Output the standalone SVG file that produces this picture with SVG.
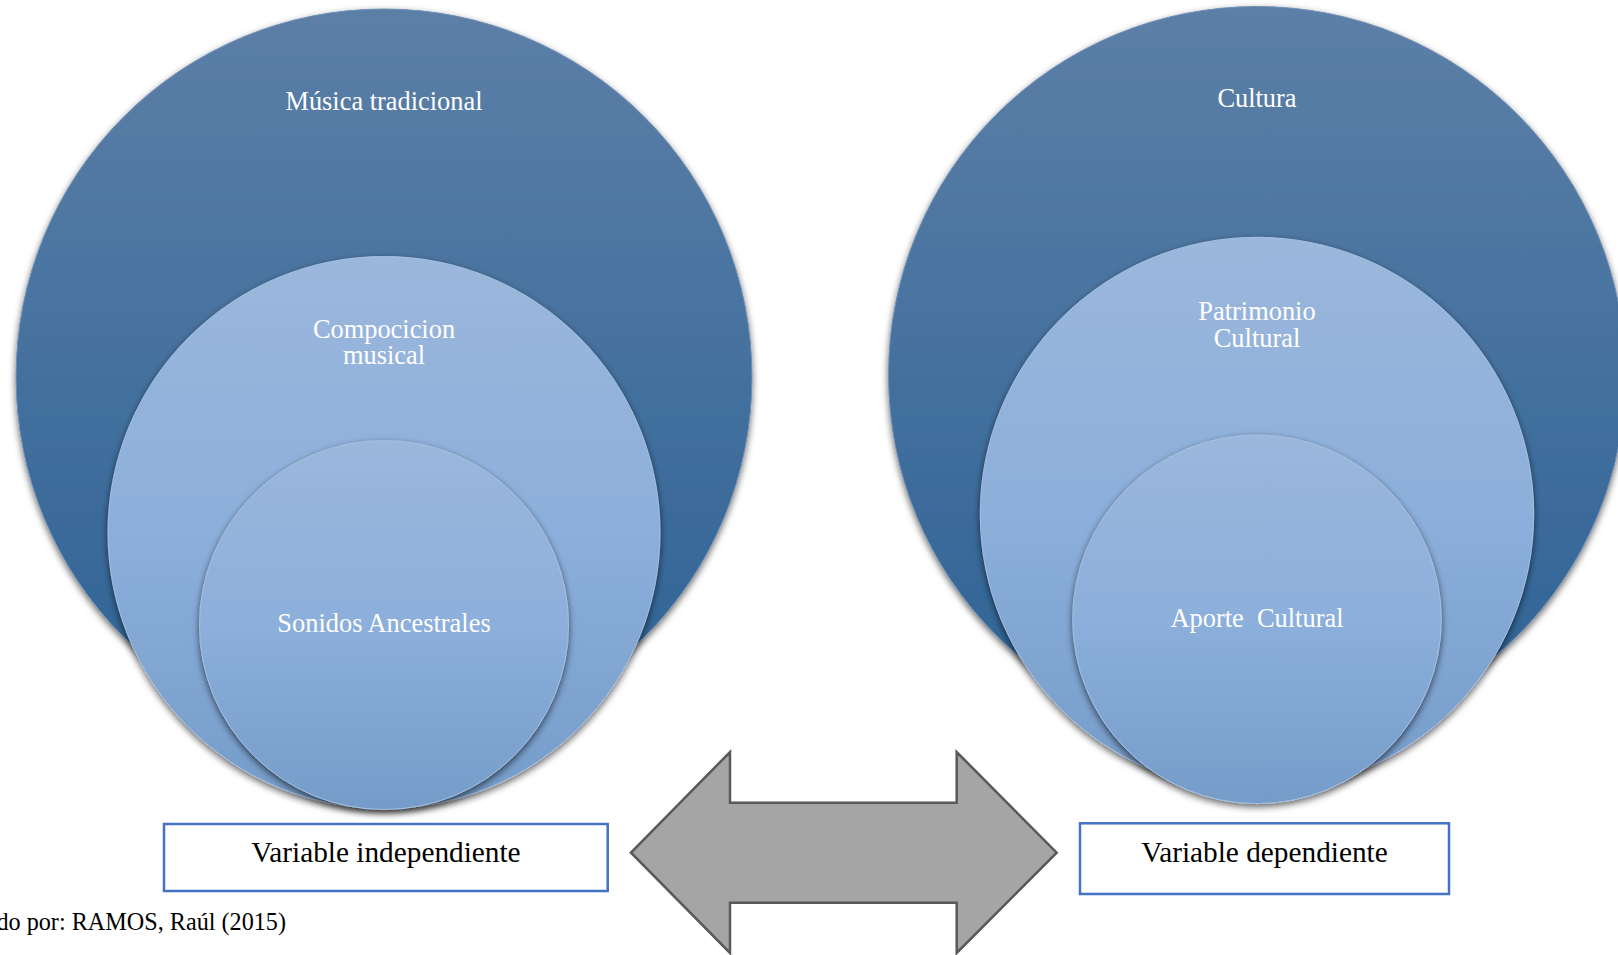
<svg xmlns="http://www.w3.org/2000/svg" width="1618" height="955" viewBox="0 0 1618 955">
<defs>
<linearGradient id="gBig" x1="0" y1="0" x2="0" y2="1">
<stop offset="0" stop-color="#5c7fa7"/>
<stop offset="1" stop-color="#2c6295"/>
</linearGradient>
<linearGradient id="gLight" x1="0" y1="0" x2="0" y2="1">
<stop offset="0" stop-color="#9bb7dc"/>
<stop offset="0.5" stop-color="#8cafdb"/>
<stop offset="1" stop-color="#759cc9"/>
</linearGradient>
<filter id="sh" x="-10%" y="-10%" width="120%" height="125%">
<feDropShadow dx="0" dy="3" stdDeviation="3.5" flood-color="#000" flood-opacity="0.6"/>
</filter>
</defs>
<style>
.big{fill:url(#gBig);stroke:#6f8fb5;stroke-width:1;filter:url(#sh)}
.light{fill:url(#gLight);stroke:#a6bfdf;stroke-width:1;filter:url(#sh)}
.lbl{font-family:"Liberation Serif","Times New Roman",serif;font-size:26.4px;fill:#ffffff;text-anchor:middle;white-space:pre}
.box{fill:#ffffff;stroke:#4472c4;stroke-width:2.5}
.btxt{font-family:"Liberation Serif","Times New Roman",serif;font-size:29.3px;fill:#000000;text-anchor:middle}
.cap{font-family:"Liberation Serif","Times New Roman",serif;font-size:24.2px;fill:#000000}
.arrow{fill:#a5a5a5;stroke:#595959;stroke-width:2.5;stroke-linejoin:miter}
</style>

<g id="left-outer">
<circle class="big" cx="384" cy="377" r="368"/>
<text class="lbl" x="384" y="109.5">Música tradicional</text>
</g>
<g id="left-middle">
<circle class="light" cx="384" cy="532.5" r="276"/>
<text class="lbl" x="384" y="337.5">Compocicion</text>
<text class="lbl" x="384" y="364">musical</text>
</g>
<g id="left-inner">
<circle class="light" cx="384" cy="625" r="184.5"/>
<text class="lbl" x="384" y="632">Sonidos Ancestrales</text>
</g>

<g id="right-outer">
<circle class="big" cx="1257" cy="375" r="368.5"/>
<text class="lbl" x="1257" y="106.5">Cultura</text>
</g>
<g id="right-middle">
<circle class="light" cx="1257" cy="514" r="276.7"/>
<text class="lbl" x="1257" y="319.5">Patrimonio</text>
<text class="lbl" x="1257" y="346.5">Cultural</text>
</g>
<g id="right-inner">
<circle class="light" cx="1257" cy="619.3" r="184.3"/>
<text class="lbl" x="1257" y="626.5" xml:space="preserve">Aporte  Cultural</text>
</g>

<g id="box-independiente">
<rect class="box" x="164" y="824" width="443.7" height="67"/>
<text class="btxt" x="386" y="862">Variable independiente</text>
</g>
<g id="box-dependiente">
<rect class="box" x="1080" y="823.3" width="369" height="70.7"/>
<text class="btxt" x="1264.5" y="862">Variable dependiente</text>
</g>

<g id="connectors">
<polygon class="arrow" points="631,852.7 730,752 730,802.7 956.7,802.7 956.7,752 1056.7,852.7 956.7,953 956.7,902.7 730,902.7 730,953"/>
</g>

<g id="caption">
<text class="cap" x="286" y="930" text-anchor="end">do por: RAMOS, Raúl (2015)</text>
</g>
</svg>
